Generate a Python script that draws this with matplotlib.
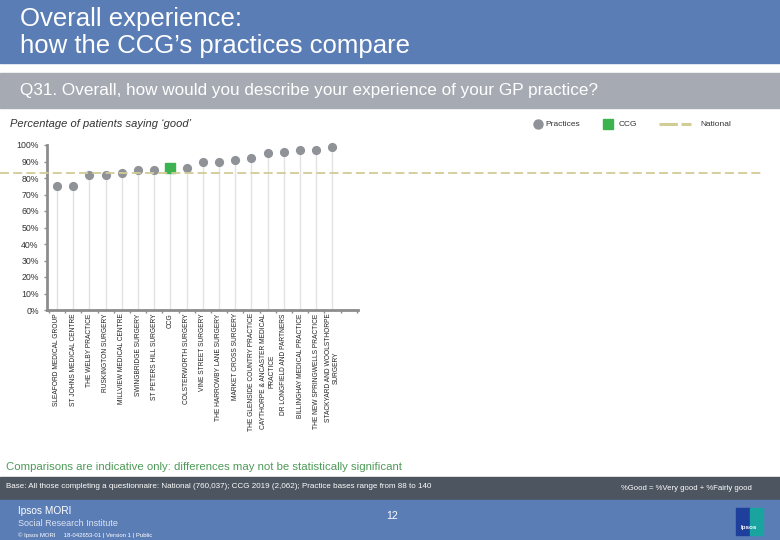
import numpy as np
import matplotlib
matplotlib.use("Agg")
import matplotlib.pyplot as plt
from matplotlib.patches import Rectangle
from matplotlib.lines import Line2D

# --- DATA ---
practices = [
    "SLEAFORD MEDICAL GROUP",
    "ST JOHNS MEDICAL CENTRE",
    "THE WELBY PRACTICE",
    "RUSKINGTON SURGERY",
    "MILLVIEW MEDICAL CENTRE",
    "SWINGBRIDGE SURGERY",
    "ST PETERS HILL SURGERY",
    "CCG",
    "COLSTERWORTH SURGERY",
    "VINE STREET SURGERY",
    "THE HARROWBY LANE SURGERY",
    "MARKET CROSS SURGERY",
    "THE GLENSIDE COUNTRY PRACTICE",
    "CAYTHORPE & ANCASTER MEDICAL\nPRACTICE",
    "DR LONGFIELD AND PARTNERS",
    "BILLINGHAY MEDICAL PRACTICE",
    "THE NEW SPRINGWELLS PRACTICE",
    "STACKYARD AND WOOLSTHORPE\nSURGERY",
]
pct_good = [75, 75, 82, 82, 83, 85, 85, 86, 86, 90, 90, 91, 92, 95, 96, 97, 97, 99]
national = 83
ccg_name = "CCG"
yticks = list(range(0, 101, 10))

# --- COLOURS ---
blue = "#5a7db6"
band_gray = "#a6abb3"
dark_band = "#4c5560"
dot_gray = "#8f9297"
ccg_green = "#3db34f"
nat_col = "#d2cc96"
txt = "#333333"

W, H = 780, 540
fig = plt.figure(figsize=(7.8, 5.4), dpi=100)
plt.rcParams['font.family'] = ['Liberation Sans', 'DejaVu Sans']


def fx(x):
    return x / W


def fy(y):
    return 1 - y / H


def band(x0, y0, x1, y1, color):
    fig.patches.append(Rectangle((fx(x0), fy(y1)), fx(x1 - x0), (y1 - y0) / H,
                                 transform=fig.transFigure, color=color, zorder=0))


# header / bands
band(0, 0, W, 63, blue)
band(0, 73, W, 108, band_gray)
band(0, 477, W, 500, dark_band)
band(0, 500, W, H, blue)

fig.text(fx(20), fy(26), "Overall experience:", color="white", fontsize=18.5, va="baseline")
fig.text(fx(20), fy(53), "how the CCG\u2019s practices compare", color="white", fontsize=18.5,
         va="baseline")
fig.text(fx(20), fy(91), "Q31. Overall, how would you describe your experience of your GP practice?",
         color="white", fontsize=12.3, va="center")
fig.text(fx(10), fy(124), "Percentage of patients saying \u2018good\u2019", color=txt,
         fontsize=8, style="italic", va="center")

# legend
fig.add_artist(Line2D([fx(538)], [fy(124)], marker="o", markersize=6.5, color=dot_gray,
                      transform=fig.transFigure))
fig.text(fx(545), fy(124), "Practices", fontsize=6, color=txt, va="center")
fig.add_artist(Line2D([fx(608)], [fy(124)], marker="s", markersize=6.5, color=ccg_green,
                      transform=fig.transFigure))
fig.text(fx(619), fy(124), "CCG", fontsize=6, color=txt, va="center")
fig.add_artist(Line2D([fx(659), fx(691)], [fy(124), fy(124)], color=nat_col, lw=2.2,
                      dashes=(6, 1.2), transform=fig.transFigure))
fig.text(fx(700), fy(124), "National", fontsize=6, color=txt, va="center")

# --- CHART ---
ax_left, ax_right, ax_bot, ax_top = 47, 763, 310, 145
ax = fig.add_axes([fx(ax_left), fy(ax_bot), fx(ax_right - ax_left), (ax_bot - ax_top) / H])
step = 16.2
x0 = -(57 - ax_left) / step
ax.set_xlim(x0, x0 + (ax_right - ax_left) / step)
ax.set_ylim(0, 100)

for i, (name, v) in enumerate(zip(practices, pct_good)):
    ax.plot([i, i], [0, v], color="#e2e2e2", lw=1, zorder=1)
    if name == ccg_name:
        ax.plot(i, v, marker="s", markersize=7.8, color=ccg_green, zorder=3, clip_on=False)
    else:
        ax.plot(i, v, marker="o", markersize=5.6, color=dot_gray, zorder=3, clip_on=False)

# national reference line across the full width
ny = fy(ax_bot) + national / 100 * (ax_bot - ax_top) / H
fig.add_artist(Line2D([0, fx(763)], [ny, ny], color=nat_col, lw=1.3, dashes=(5, 2.3),
                      transform=fig.transFigure, zorder=2))

for s in ["top", "right"]:
    ax.spines[s].set_visible(False)
for s in ["left", "bottom"]:
    ax.spines[s].set_color("#8c8c8c")
    ax.spines[s].set_linewidth(2)
ax.spines["bottom"].set_bounds(x0, len(practices) + 0.6)

ax.set_yticks(yticks)
ax.set_yticklabels([f"{t}%" for t in yticks], fontsize=6.3, color=txt)
ax.set_xticks(np.arange(-0.5, len(practices) + 0.6, 1))
ax.set_xticklabels([])
ax.tick_params(axis="both", color="#8c8c8c", length=2.5, width=1)
ax.patch.set_alpha(0)

for i, name in enumerate(practices):
    ax.text(i, -2, name, rotation=90, ha="center", va="top", fontsize=4.8,
            color="#222222", multialignment="center", linespacing=1.2)

# --- FOOTER ---
fig.text(fx(6), fy(467), "Comparisons are indicative only: differences may not be statistically significant",
         color="#4e9a58", fontsize=8.2, va="center")
fig.text(fx(6), fy(487), "Base: All those completing a questionnaire: National (760,037); CCG 2019 (2,062); "
         "Practice bases range from 88 to 140", color="white", fontsize=5.8, va="center")
fig.text(fx(621), fy(488), "%Good = %Very good + %Fairly good", color="white", fontsize=5.6, va="center")
fig.text(fx(18), fy(511), "Ipsos MORI", color="white", fontsize=7.3, va="center")
fig.text(fx(18), fy(524), "Social Research Institute", color="#dde4f0", fontsize=6.5, va="center")
fig.text(fx(18), fy(535), "\u00a9 Ipsos MORI     18-042653-01 | Version 1 | Public", color="white",
         fontsize=4.3, va="center")
fig.text(fx(392), fy(516), "12", color="white", fontsize=7.5, va="center", ha="center")

# logo
band(736, 508, 750, 535, "#1e3f9c")
band(750, 508, 763, 535, "#19a4a0")
fig.text(fx(749), fy(527), "Ipsos", color="white", fontsize=4.5, ha="center", va="center", weight="bold")

fig.savefig("out.png", dpi=100)
